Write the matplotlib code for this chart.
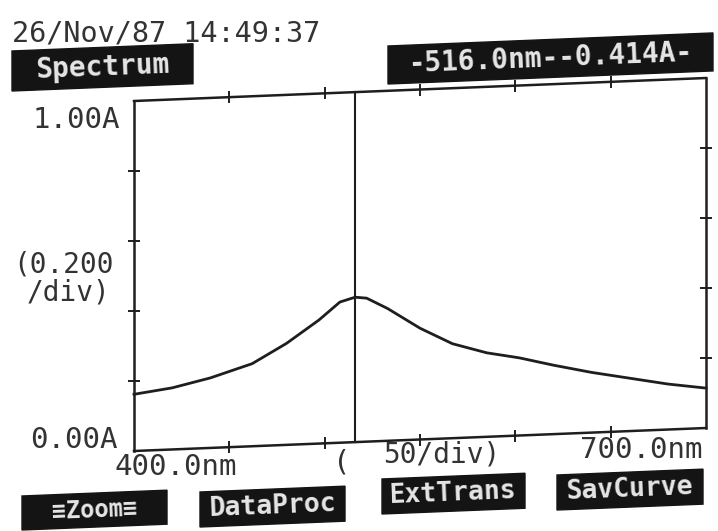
"""Recreation of a scanned spectrophotometer printout (absorbance spectrum)."""

import numpy as np
import matplotlib.pyplot as plt
from matplotlib.transforms import Affine2D
from matplotlib.patches import Polygon

# spectrum
wavelength = [400, 420, 440, 462, 480, 497, 508, 516, 522, 533, 550, 567,
              585, 602, 620, 640, 660, 680, 700]
absorbance = [0.162, 0.176, 0.200, 0.236, 0.290, 0.353, 0.402, 0.414, 0.410,
              0.378, 0.318, 0.270, 0.240, 0.222, 0.197, 0.172, 0.151, 0.130, 0.114]

# cursor readout
cursor_nm = 516.0
cursor_abs = 0.414

# axis ranges and ticks
x_range = [400.0, 700.0]
y_range = [0.0, 1.0]
x_ticks = [450, 500, 550, 600, 650]
y_ticks = [0.2, 0.4, 0.6, 0.8]

# button labels along the bottom
buttons = ["\u2261Zoom\u2261", "DataProc", "ExtTrans", "SavCurve"]

W, H = 718, 531
SHEAR = 0.0402  # the scan is slightly skewed, right side sits higher
INK = "#1e1e1e"
MONO = "DejaVu Sans Mono"

fig = plt.figure(figsize=(W / 100, H / 100), dpi=100)
fig.patch.set_facecolor("white")


def fx(x):
    return x / W


def fy(y):
    return 1 - y / H


def label(x, y, s, size=20, ha="left", **kw):
    fig.text(fx(x), fy(y), s, fontsize=size, ha=ha, va="center",
             family=MONO, color="#333333", **kw)


def button(x0, x1, y_top, y_bot, s, size=19):
    rise = SHEAR * (x1 - x0)
    pts = [(x0, y_top), (x1, y_top - rise), (x1, y_bot - rise), (x0, y_bot)]
    fig.patches.append(Polygon([(fx(a), fy(b)) for a, b in pts], closed=True,
                               transform=fig.transFigure, facecolor="#141414",
                               edgecolor="#141414", lw=1))
    fig.text(fx((x0 + x1) / 2), fy((y_top + y_bot) / 2 - rise / 2), s,
             fontsize=size, ha="center", va="center", family=MONO,
             fontweight="bold", color="#e6e6e6",
             rotation=np.degrees(np.arctan(SHEAR)))


# plot area, left edge 134px, right 706px, bottom-left at 451px
ax = fig.add_axes([134 / W, (H - 451) / H, 572 / W, 350 / H])
ax.set_xlim(x_range)
ax.set_ylim(y_range)
ax.axis("off")

x0d, y0d = ax.bbox.x0, ax.bbox.y0
skew = ax.transData + Affine2D().translate(-x0d, -y0d).skew(0, np.arctan(SHEAR)).translate(x0d, y0d)

# frame: horizontal edges and vertical edges
for yy in y_range:
    ax.plot(x_range, [yy, yy], color=INK, lw=1.8, transform=skew, clip_on=False)
for xx in x_range:
    ax.plot([xx, xx], y_range, color=INK, lw=1.8, transform=skew, clip_on=False)

# ticks on all four sides
for yy in y_range:
    ax.plot(x_ticks, [yy] * len(x_ticks), ls="none", marker="|", ms=9, mew=1.4,
            color=INK, transform=skew, clip_on=False)
for xx in x_range:
    ax.plot([xx] * len(y_ticks), y_ticks, ls="none", marker="_", ms=9, mew=1.4,
            color=INK, transform=skew, clip_on=False)

# cursor line
ax.plot([cursor_nm, cursor_nm], y_range, color=INK, lw=1.5, transform=skew, clip_on=False)

# spectrum
ax.plot(wavelength, absorbance, color=INK, lw=2.0, transform=skew, clip_on=False)

# header
label(12, 34, "26/Nov/87 14:49:37", size=20.5)
button(12, 193, 51, 91, "Spectrum", size=20)
button(388, 713, 46, 84, f"-{cursor_nm:.1f}nm--{cursor_abs:.3f}A-", size=20)

# axis annotations
label(120, 120, f"{y_range[1]:.2f}A", size=21, ha="right")
label(13, 264, "(0.200", size=20)
label(27, 293, "/div)", size=20)
label(118, 440, f"{y_range[0]:.2f}A", size=21, ha="right")
label(115, 467, f"{x_range[0]:.1f}nm", size=21)
label(333, 462, "(", size=21)
label(383, 454, "50/div)", size=20)
label(580, 450, f"{x_range[1]:.1f}nm", size=21)

# soft keys
button(22, 167, 496, 530, buttons[0], size=17)
button(200, 345, 492, 527, buttons[1])
button(382, 525, 479, 514, buttons[2])
button(557, 703, 475, 510, buttons[3])

fig.savefig("out.png", dpi=100)
